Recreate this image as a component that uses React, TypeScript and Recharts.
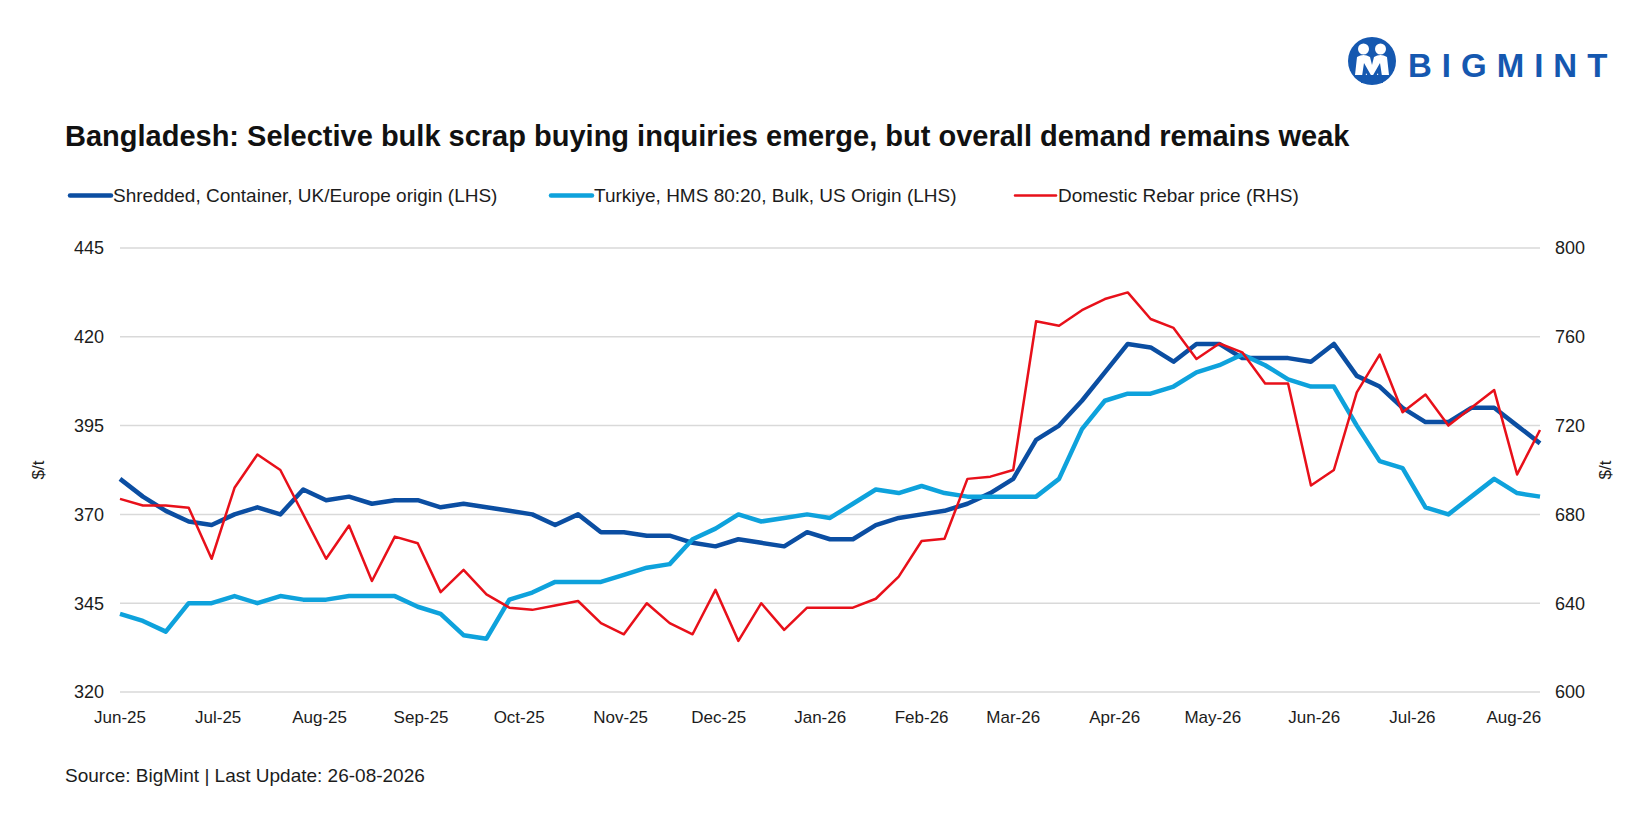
import React from "react";
import { LineChart, Line, XAxis, YAxis, CartesianGrid } from "recharts";

// weekly assessments, first week starting 1 Jun 2025
const firstWeek = "2025-06-01";
const WEEK = 7 * 86400000;

const monthTicks = [
  "2025-06-01", "2025-07-01", "2025-08-01", "2025-09-01", "2025-10-01",
  "2025-11-01", "2025-12-01", "2026-01-01", "2026-02-01", "2026-03-01",
  "2026-04-01", "2026-05-01", "2026-06-01", "2026-07-01", "2026-08-01",
];
const monthLabels = [
  "Jun-25", "Jul-25", "Aug-25", "Sep-25", "Oct-25", "Nov-25", "Dec-25",
  "Jan-26", "Feb-26", "Mar-26", "Apr-26", "May-26", "Jun-26", "Jul-26", "Aug-26",
];

const leftTicks = [320, 345, 370, 395, 420, 445];
const rightTicks = [600, 640, 680, 720, 760, 800];

// $/t
const shredded = [
  380, 375, 371, 368, 367, 370, 372, 370, 377, 374,
  375, 373, 374, 374, 372, 373, 372, 371, 370, 367,
  370, 365, 365, 364, 364, 362, 361, 363, 362, 361,
  365, 363, 363, 367, 369, 370, 371, 373, 376, 380,
  391, 395, 402, 410, 418, 417, 413, 418, 418, 414,
  414, 414, 413, 418, 409, 406, 400, 396, 396, 400,
  400, 395, 390,
];
const turkiye = [
  342, 340, 337, 345, 345, 347, 345, 347, 346, 346,
  347, 347, 347, 344, 342, 336, 335, 346, 348, 351,
  351, 351, 353, 355, 356, 363, 366, 370, 368, 369,
  370, 369, 373, 377, 376, 378, 376, 375, 375, 375,
  375, 380, 394, 402, 404, 404, 406, 410, 412, 415,
  412, 408, 406, 406, 395, 385, 383, 372, 370, 375,
  380, 376, 375,
];
const rebar = [
  687, 684, 684, 683, 660, 692, 707, 700, 680, 660,
  675, 650, 670, 667, 645, 655, 644, 638, 637, 639,
  641, 631, 626, 640, 631, 626, 646, 623, 640, 628,
  638, 638, 638, 642, 652, 668, 669, 696, 697, 700,
  767, 765, 772, 777, 780, 768, 764, 750, 757, 753,
  739, 739, 693, 700, 735, 752, 726, 734, 720, 728,
  736, 698, 718,
];

const series = [
  { key: "shredded", name: "Shredded, Container, UK/Europe origin (LHS)", color: "#0B4EA2", width: 4.5, axis: "left", legendX: 70 },
  { key: "turkiye", name: "Turkiye, HMS 80:20, Bulk, US Origin (LHS)", color: "#0EA2DC", width: 4.5, axis: "left", legendX: 551 },
  { key: "rebar", name: "Domestic Rebar price (RHS)", color: "#E8101A", width: 2.5, axis: "right", legendX: 1015 },
];

const start = Date.parse(firstWeek);
const data = shredded.map((v, i) => ({
  date: start + i * WEEK,
  shredded: v,
  turkiye: turkiye[i],
  rebar: rebar[i],
}));
const tickValues = monthTicks.map((d) => Date.parse(d));
const labelFor = (t: number) => monthLabels[tickValues.indexOf(t)] ?? "";

const FONT = "'Liberation Sans', Arial, sans-serif";
const TEXT = "#1c1c1c";
const BRAND = "#1558B0";

function Logo() {
  const cx = 1372;
  const cy = 61;
  return (
    <g>
      <circle cx={cx} cy={cy} r={24} fill={BRAND} />
      <circle cx={cx - 8.5} cy={cy - 12} r={5.5} fill="#fff" />
      <circle cx={cx + 8.5} cy={cy - 12} r={5.5} fill="#fff" />
      <path
        d={`M${cx - 17} ${cy + 14} L${cx - 15} ${cy - 4} Q${cx - 8.5} ${cy - 8} ${cx - 2} ${cy - 4} L${cx} ${cy + 4} L${cx + 2} ${cy - 4} Q${cx + 8.5} ${cy - 8} ${cx + 15} ${cy - 4} L${cx + 17} ${cy + 14} Z`}
        fill="#fff"
      />
      <path
        d={`M${cx - 11} ${cy + 22} L${cx - 8} ${cy + 2} L${cx} ${cy + 16} L${cx + 8} ${cy + 2} L${cx + 11} ${cy + 22} L${cx + 7} ${cy + 22} L${cx + 6} ${cy + 12} L${cx} ${cy + 22} L${cx - 6} ${cy + 12} L${cx - 7} ${cy + 22} Z`}
        fill={BRAND}
      />
      <text
        x={1408}
        y={77}
        fontFamily={FONT}
        fontWeight={700}
        fontSize={33}
        letterSpacing={10}
        fill={BRAND}
      >
        BIGMINT
      </text>
    </g>
  );
}

function Overlay() {
  return (
    <svg
      width={1650}
      height={825}
      style={{ position: "absolute", left: 0, top: 0, pointerEvents: "none" }}
    >
      <Logo />
      <text x={65} y={146} fontFamily={FONT} fontWeight={700} fontSize={29} fill="#111">
        Bangladesh: Selective bulk scrap buying inquiries emerge, but overall demand remains weak
      </text>
      {series.map((s) => (
        <g key={s.key}>
          <line
            x1={s.legendX}
            x2={s.legendX + 41}
            y1={195.5}
            y2={195.5}
            stroke={s.color}
            strokeWidth={s.width}
            strokeLinecap="round"
          />
          <text x={s.legendX + 43} y={202} fontFamily={FONT} fontSize={19} fill={TEXT}>
            {s.name}
          </text>
        </g>
      ))}
      <text
        transform="translate(38,470) rotate(-90)"
        textAnchor="middle"
        dominantBaseline="central"
        fontFamily={FONT}
        fontSize={17}
        fill={TEXT}
      >
        $/t
      </text>
      <text
        transform="translate(1605,470) rotate(-90)"
        textAnchor="middle"
        dominantBaseline="central"
        fontFamily={FONT}
        fontSize={17}
        fill={TEXT}
      >
        $/t
      </text>
      <text x={65} y={782} fontFamily={FONT} fontSize={19} fill={TEXT}>
        Source: BigMint | Last Update: 26-08-2026
      </text>
    </svg>
  );
}

export default function App() {
  const tick = { fontFamily: FONT, fontSize: 18, fill: TEXT };
  return (
    <div
      style={{
        position: "absolute",
        left: 0,
        top: 0,
        width: 1650,
        height: 825,
        background: "#fff",
      }}
    >
      <LineChart
        width={1650}
        height={825}
        data={data}
        margin={{ top: 248, right: 0, bottom: 93, left: 0 }}
      >
        <CartesianGrid
          yAxisId="left"
          vertical={false}
          stroke="#D9D9D9"
          strokeWidth={1.5}
        />
        <XAxis
          dataKey="date"
          type="number"
          domain={[data[0].date, data[data.length - 1].date]}
          ticks={tickValues}
          tickFormatter={labelFor}
          interval={0}
          height={40}
          axisLine={false}
          tickLine={false}
          tickSize={0}
          tickMargin={19}
          tick={{ ...tick, fontSize: 17 }}
        />
        <YAxis
          yAxisId="left"
          orientation="left"
          width={120}
          domain={[320, 445]}
          ticks={leftTicks}
          interval={0}
          axisLine={false}
          tickLine={false}
          tickSize={0}
          tickMargin={16}
          tick={tick}
        />
        <YAxis
          yAxisId="right"
          orientation="right"
          width={110}
          domain={[600, 800]}
          ticks={rightTicks}
          interval={0}
          axisLine={false}
          tickLine={false}
          tickSize={0}
          tickMargin={15}
          tick={{ ...tick, textAnchor: "start" }}
        />
        {series.map((s) => (
          <Line
            key={s.key}
            yAxisId={s.axis}
            dataKey={s.key}
            name={s.name}
            type="linear"
            stroke={s.color}
            strokeWidth={s.width}
            strokeLinejoin="round"
            dot={false}
            activeDot={false}
            isAnimationActive={false}
          />
        ))}
      </LineChart>
      <Overlay />
    </div>
  );
}
